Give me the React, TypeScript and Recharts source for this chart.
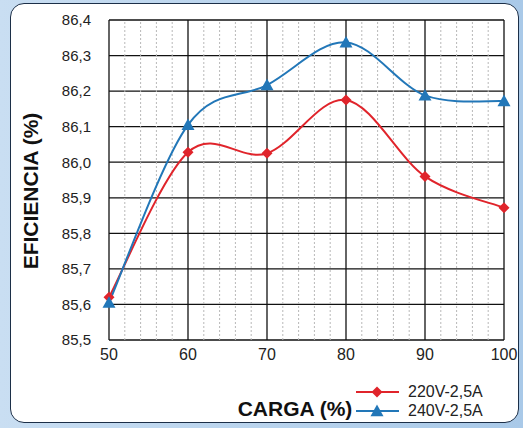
import { LineChart, Line, XAxis, YAxis, CartesianGrid, ReferenceLine, Label } from 'recharts';

const carga = [50, 60, 70, 80, 90, 100];
const serie220 = [85.62, 86.028, 86.025, 86.175, 85.96, 85.872];
const serie240 = [85.605, 86.105, 86.217, 86.337, 86.188, 86.172];
const yTicks = [85.5, 85.6, 85.7, 85.8, 85.9, 86.0, 86.1, 86.2, 86.3, 86.4];
const xTicks = [50, 60, 70, 80, 90, 100];
const minorTicks = [52, 54, 56, 58, 62, 64, 66, 68, 72, 74, 76, 78, 82, 84, 86, 88, 92, 94, 96, 98];
const seriesNames = ['220V-2,5A', '240V-2,5A'];

const data = carga.map((c, i) => ({ carga: c, v220: serie220[i], v240: serie240[i] }));

const RED = '#e0242b';
const BLUE = '#2277b8';
const FONT = 'Liberation Sans, Arial, sans-serif';

// Excel-style smoothed line (Catmull-Rom through the points)
function smoothCurve(context: any) {
  let pts: [number, number][] = [];
  return {
    areaStart() {},
    areaEnd() {},
    lineStart() {
      pts = [];
    },
    point(x: number, y: number) {
      pts.push([+x, +y]);
    },
    lineEnd() {
      if (!pts.length) return;
      context.moveTo(pts[0][0], pts[0][1]);
      for (let i = 0; i < pts.length - 1; i++) {
        const p0 = pts[i - 1] || pts[i];
        const p1 = pts[i];
        const p2 = pts[i + 1];
        const p3 = pts[i + 2] || p2;
        context.bezierCurveTo(
          p1[0] + (p2[0] - p0[0]) / 6,
          p1[1] + (p2[1] - p0[1]) / 6,
          p2[0] - (p3[0] - p1[0]) / 6,
          p2[1] - (p3[1] - p1[1]) / 6,
          p2[0],
          p2[1]
        );
      }
    },
  };
}

function Diamond({ cx, cy, fill }: any) {
  if (cx == null || cy == null) return null;
  const r = 5.5;
  return <path d={`M${cx},${cy - r}L${cx + r},${cy}L${cx},${cy + r}L${cx - r},${cy}Z`} fill={fill} />;
}

function Triangle({ cx, cy, fill }: any) {
  if (cx == null || cy == null) return null;
  const r = 6.5;
  return <path d={`M${cx},${cy - r}L${cx + r},${cy + r * 0.8}L${cx - r},${cy + r * 0.8}Z`} fill={fill} />;
}

function LegendBox() {
  const rows = [
    { name: seriesNames[0], color: RED, mark: 'diamond' },
    { name: seriesNames[1], color: BLUE, mark: 'triangle' },
  ];
  return (
    <div style={{ position: 'absolute', left: 356, top: 382, fontFamily: FONT, fontSize: 16, color: '#222' }}>
      {rows.map((r) => (
        <div key={r.name} style={{ display: 'flex', alignItems: 'center', height: 19 }}>
          <svg width={52} height={16}>
            <line x1={0} y1={8} x2={43} y2={8} stroke={r.color} strokeWidth={2} />
            {r.mark === 'diamond' ? <Diamond cx={21} cy={8} fill={r.color} /> : <Triangle cx={21} cy={8} fill={r.color} />}
          </svg>
          <span>{r.name}</span>
        </div>
      ))}
    </div>
  );
}

export default function App() {
  return (
    <div style={{ position: 'fixed', left: 0, top: 0, width: 523, height: 428, background: 'linear-gradient(90deg, #c9def2, #a9c9e8)' }}>
      <div
        style={{
          position: 'absolute',
          left: 10,
          top: 3,
          width: 507,
          height: 418,
          border: '1.5px solid #1c2f48',
          borderRadius: 14,
          background: '#fff',
        }}
      />
      <div style={{ position: 'absolute', left: 0, top: 0 }}>
        <LineChart width={523} height={428} data={data} margin={{ top: 20, right: 19, left: 0, bottom: 0 }}>
          {minorTicks.map((t) => (
            <ReferenceLine key={t} x={t} stroke="#b8b8b8" strokeDasharray="2 2" strokeWidth={1} />
          ))}
          <CartesianGrid stroke="#111" strokeWidth={1.3} />
          <XAxis
            dataKey="carga"
            type="number"
            domain={[50, 100]}
            ticks={xTicks}
            interval={0}
            axisLine={false}
            tickLine={false}
            tickSize={0}
            tickMargin={9}
            height={88}
            tick={{ fill: '#222', fontSize: 16, fontFamily: FONT }}
          >
            <Label
              content={() => (
                <text x={295} y={416} textAnchor="middle" fontFamily={FONT} fontWeight="bold" fontSize={21} fill="#111">
                  CARGA (%)
                </text>
              )}
            />
          </XAxis>
          <YAxis
            type="number"
            domain={[85.5, 86.4]}
            ticks={yTicks}
            interval={0}
            width={109}
            axisLine={false}
            tickLine={false}
            tickSize={0}
            tickMargin={18}
            tickFormatter={(v: number) => v.toFixed(1).replace('.', ',')}
            tick={{ fill: '#222', fontSize: 15, fontFamily: FONT }}
          >
            <Label
              content={() => (
                <text
                  x={38}
                  y={191}
                  textAnchor="middle"
                  transform="rotate(-90 38 191)"
                  fontFamily={FONT}
                  fontWeight="bold"
                  fontSize={21}
                  fill="#111"
                >
                  EFICIENCIA (%)
                </text>
              )}
            />
          </YAxis>
          <Line
            dataKey="v220"
            name={seriesNames[0]}
            type={smoothCurve as any}
            stroke={RED}
            strokeWidth={2}
            dot={(p: any) => <Diamond key={`d${p.index}`} cx={p.cx} cy={p.cy} fill={RED} />}
            isAnimationActive={false}
          />
          <Line
            dataKey="v240"
            name={seriesNames[1]}
            type={smoothCurve as any}
            stroke={BLUE}
            strokeWidth={2}
            dot={(p: any) => <Triangle key={`t${p.index}`} cx={p.cx} cy={p.cy} fill={BLUE} />}
            isAnimationActive={false}
          />
        </LineChart>
      </div>
      <LegendBox />
    </div>
  );
}
